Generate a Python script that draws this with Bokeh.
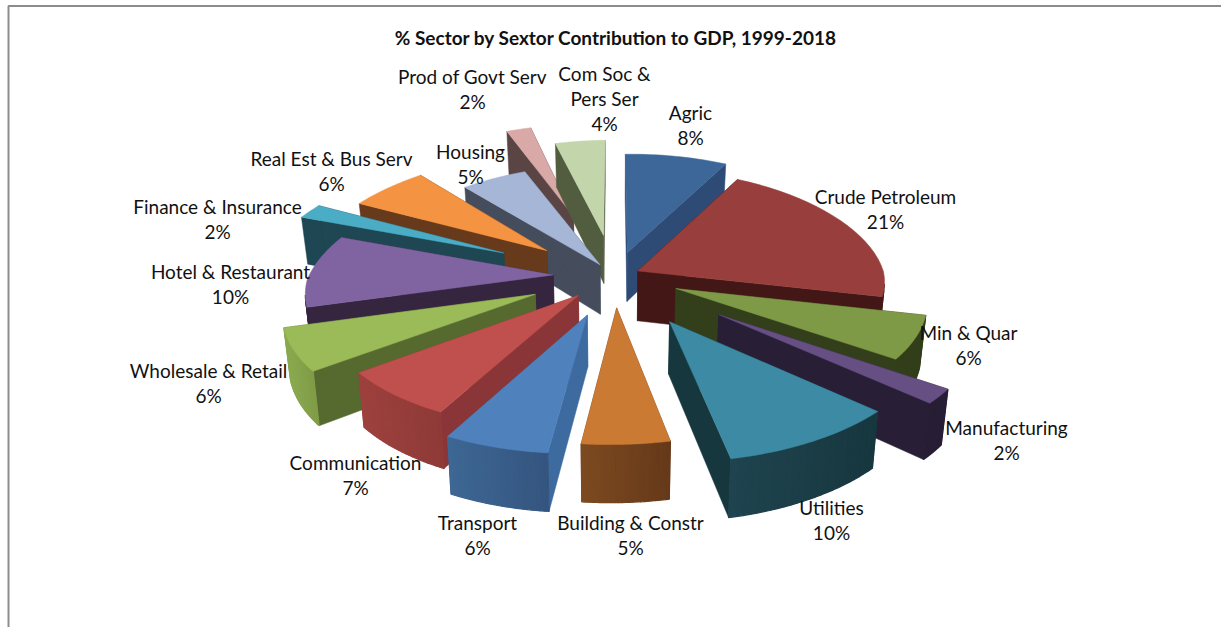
import numpy as np
from bokeh.plotting import figure
from bokeh.models import ColumnDataSource
from bokeh.core.properties import value
from bokeh.embed import file_html
from bokeh.resources import INLINE

# Sector shares in percent, clockwise from twelve o'clock
sectors = ["Agric", "Crude Petroleum", "Min & Quar", "Manufacturing", "Utilities",
           "Building & Constr", "Transport", "Communication", "Wholesale & Retail",
           "Hotel & Restaurant", "Finance & Insurance", "Real Est & Bus Serv",
           "Housing", "Prod of Govt Serv", "Com Soc &\nPers Ser"]
shares = [8, 21, 6, 2, 10, 5, 6, 7, 6, 10, 2, 6, 5, 2, 4]

# How far each wedge is pulled out, as a fraction of the pie radius
explosion = [0.215, 0.104, 0.272, 0.53, 0.445, 0.272, 0.345, 0.218, 0.35,
             0.25, 0.515, 0.37, 0.117, 0.59, 0.375]

top_colors = ["#3C6798", "#983F3D", "#7E9A47", "#664F82", "#3C8AA3", "#CB7A34", "#4F81BD",
              "#C0504D", "#9BBB59", "#8064A2", "#4BACC6", "#F49442", "#A5B6D6", "#D9A9A8", "#C3D5AA"]
side_colors = ["#2D4B74", "#431715", "#333E1B", "#281F36", "#17373F", "#66391A", "#3D6A9F",
               "#8A3537", "#566A30", "#35253F", "#1E4653", "#673A1B", "#454C5C", "#5A4544", "#525D3F"]
# Curved rim shading, left end then right end of each wedge's visible rim
rim_left = ["#2D4B74", "#431715", "#333E1B", "#281F36", "#1F444F", "#7C4A20", "#3E6794",
            "#9E413E", "#8BAA50", "#35253F", "#1E4653", "#673A1B", "#454C5C", "#5A4544", "#525D3F"]
rim_right = ["#2D4B74", "#431715", "#333E1B", "#281F36", "#17373F", "#66391A", "#34557F",
             "#8E3A38", "#7F9C46", "#35253F", "#1E4653", "#673A1B", "#454C5C", "#5A4544", "#525D3F"]

# Painter's order: back of the pie first, each half working toward the viewer
draw_order = [13, 14, 12, 11, 10, 9, 8, 7, 6, 0, 1, 2, 3, 4, 5]

# Label anchors: centre x, then the y centre of each text line
label_x = [690, 885, 968, 1006, 831, 630, 477, 355, 208, 230, 217, 331, 470, 472, 604]
label_y = [112, 196, 332, 427, 507, 522, 522, 462, 370, 271, 206, 158, 151, 76, 73]
line_step = 25

# Perspective projection of the pie plane
CX, CY = 614, 275.5
RX, RY = 246, 114
PERSP = 0.11
BACK_NARROW = 0.05   # extra horizontal foreshortening behind the pie's centre line
SHEAR = 0.013        # the plane dips slightly toward the left
THICK = 50
TILT = 0.02


def project(u, v, z=0.0):
    s = 1.0 / (1.0 + PERSP * v)
    narrow = 1 - BACK_NARROW * np.maximum(v, 0)
    dx = RX * u * s * narrow
    return CX + dx * (1 - TILT * z), CY - RY * v * s + THICK * s * z - SHEAR * dx


def hex_rgb(c):
    return np.array([int(c[i:i + 2], 16) for i in (1, 3, 5)], dtype=float)


def mix(a, b, t):
    r = hex_rgb(a) * (1 - t) + hex_rgb(b) * t
    return "#%02x%02x%02x" % tuple(int(round(x)) for x in r)


fractions = np.array(shares, dtype=float) / sum(shares)
edges = np.concatenate([[0], np.cumsum(fractions)]) * 2 * np.pi

xs, ys, fills, widths = [], [], [], []


def add(px, py, color, width=0.5):
    xs.append(list(px))
    ys.append(list(py))
    fills.append(color)
    widths.append(width)


for i in draw_order:
    t0, t1 = edges[i], edges[i + 1]
    mid = (t0 + t1) / 2
    du, dv = explosion[i] * np.sin(mid), explosion[i] * np.cos(mid)
    th = np.linspace(t0, t1, 25)
    u = np.sin(th) + du
    v = np.cos(th) + dv

    # Flat walls running from the wedge tip to its two outer corners
    for k in (0, -1):
        wx = [project(du, dv)[0], project(u[k], v[k])[0], project(u[k], v[k], 1)[0], project(du, dv, 1)[0]]
        wy = [project(du, dv)[1], project(u[k], v[k])[1], project(u[k], v[k], 1)[1], project(du, dv, 1)[1]]
        add(wx, wy, side_colors[i])

    # Curved rim, only the parts facing the camera
    facing = np.sin(th) * (0 - u) + np.cos(th) * (-1 / PERSP - v) > 0
    idx = np.where(facing)[0]
    if len(idx) > 1:
        x_vals = project(u[idx], v[idx])[0]
        lo, hi = x_vals.min(), x_vals.max()
        for a, b in zip(idx[:-1], idx[1:]):
            ax, ay = project(u[a], v[a])
            bx, by = project(u[b], v[b])
            cx_, cy_ = project(u[b], v[b], 1)
            dx_, dy_ = project(u[a], v[a], 1)
            t = ((ax + bx) / 2 - lo) / max(hi - lo, 1)
            add([ax, bx, cx_, dx_], [ay, by, cy_, dy_], mix(rim_left[i], rim_right[i], t), 1.2)

    # Top face
    tx, ty = project(u, v)
    tipx, tipy = project(du, dv)
    add([tipx, *tx], [tipy, *ty], top_colors[i])

p = figure(width=1221, height=627, x_range=(0, 1221), y_range=(627, 0),
           output_backend="svg", toolbar_location=None, min_border=0)
p.axis.visible = False
p.grid.visible = False
p.outline_line_color = None
p.background_fill_color = "white"
p.border_fill_color = "white"

# Chart frame: only its top and left edges fall inside the page
p.line([8, 8, 1221], [627, 5.5, 5.5], line_color="#8C8C8C", line_width=2)

p.patches(xs=xs, ys=ys, fill_color=fills, line_color=fills, line_width=widths)

# Data labels: sector name lines followed by the percentage
tx_, ty_, tt_ = [], [], []
for name, share, x, y in zip(sectors, shares, label_x, label_y):
    lines = name.split("\n") + [f"{share}%"]
    for n, line in enumerate(lines):
        tx_.append(x)
        ty_.append(y + n * line_step)
        tt_.append(line)
labels = ColumnDataSource(dict(x=tx_, y=ty_, text=tt_))
p.text("x", "y", text="text", source=labels, text_align="center", text_baseline="middle",
       text_font=value("Lato"), text_font_size="19px", text_color="#111111")

p.text([615.5], [37], text=["% Sector by Sextor Contribution to GDP, 1999-2018"],
       text_align="center", text_baseline="middle", text_font=value("Lato"),
       text_font_size="19px", text_font_style="bold", text_color="#111111")

open("out.html", "w").write(file_html(p, INLINE))
